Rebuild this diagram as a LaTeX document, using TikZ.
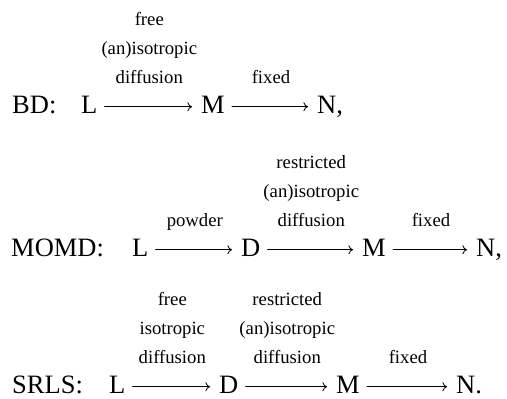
\documentclass[tikz,border=0pt]{standalone}
\usepackage{fontspec}
\setmainfont{Liberation Serif}
\usetikzlibrary{arrows.meta}
\tikzset{
  every picture/.style={line cap=round,line join=round},
  rowname/.style={font=\fontsize{26.5}{29}\selectfont,anchor=base west,
    inner sep=0pt,text height=12.5pt,text depth=0pt},
  stage/.style={font=\fontsize{26.5}{29}\selectfont,anchor=base west,
    inner sep=0pt,text height=12.5pt,text depth=0pt},
  flow/.style={-{To[length=4.6pt,width=9pt]},line width=.85pt,
    shorten <=7pt,shorten >=9pt},
  lab/.style={font=\fontsize{18.7}{29}\selectfont,align=center,
    inner sep=0pt,text depth=0pt,above=22.75pt}
}
\begin{document}
\begin{tikzpicture}[x=1pt,y=-1pt]
  \useasboundingbox (0,0) rectangle (507,399);

  % BD: two steps.
  \node[rowname] (bd) at (12,113) {BD:};
  \node[stage] (bdL) at (81,113) {L};
  \node[stage] (bdM) at (201,113) {M};
  \node[stage] (bdN) at (317,113) {N,};
  \draw[flow] (bdL.east)--(bdM.west)
    node[midway,lab] {free\\(an)isotropic\\diffusion};
  \draw[flow] (bdM.east)--(bdN.west)
    node[midway,lab] {fixed};

  % MOMD: powder averaging first.
  \node[rowname] (momd) at (11,256) {MOMD:};
  \node[stage] (moL) at (132,256) {L};
  \node[stage] (moD) at (241,256) {D};
  \node[stage] (moM) at (362,256) {M};
  \node[stage] (moN) at (476,256) {N,};
  \draw[flow] (moL.east)--(moD.west)
    node[midway,lab] {powder};
  \draw[flow] (moD.east)--(moM.west)
    node[midway,lab] {restricted\\(an)isotropic\\diffusion};
  \draw[flow] (moM.east)--(moN.west)
    node[midway,lab] {fixed};

  % SRLS: free and restricted motions.
  \node[rowname] (srls) at (12,393) {SRLS:};
  \node[stage] (srL) at (109,393) {L};
  \node[stage] (srD) at (219,393) {D};
  \node[stage] (srM) at (336,393) {M};
  \node[stage] (srN) at (456,393) {N.};
  \draw[flow] (srL.east)--(srD.west)
    node[midway,lab] {free\\isotropic\\diffusion};
  \draw[flow] (srD.east)--(srM.west)
    node[midway,lab] {restricted\\(an)isotropic\\diffusion};
  \draw[flow] (srM.east)--(srN.west)
    node[midway,lab] {fixed};
\end{tikzpicture}
\end{document}
